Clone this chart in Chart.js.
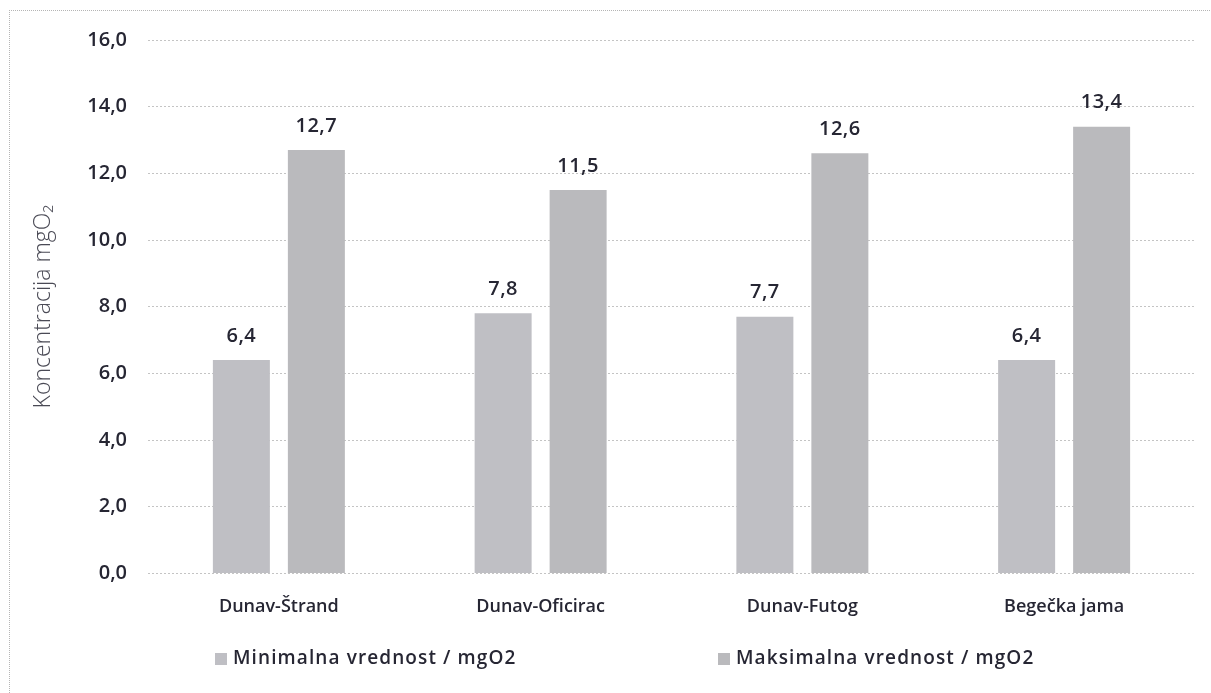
<!DOCTYPE html>
<html><head><meta charset="utf-8">
<script src="https://cdn.jsdelivr.net/npm/chart.js@4"></script>
<style>
html,body{margin:0;padding:0;background:#fff}
#wrap{position:relative;width:1211px;height:693px;overflow:hidden}
#frame{position:absolute;left:9px;top:10px;width:1300px;height:800px;border-left:1px dotted #b5b5b5;border-top:1px dotted #b5b5b5;pointer-events:none}
canvas{display:block}
</style></head>
<body><div id="wrap"><canvas id="c" width="1211" height="693"></canvas><div id="frame"></div></div>
<script>
const categories = ['Dunav-Štrand', 'Dunav-Oficirac', 'Dunav-Futog', 'Begečka jama'];
const minValues = [6.4, 7.8, 7.7, 6.4];
const maxValues = [12.7, 11.5, 12.6, 13.4];
const seriesLabels = ['Minimalna vrednost / mgO2', 'Maksimalna vrednost / mgO2'];
const seriesColors = ['#bfbfc4', '#bababd'];
const yMin = 0, yMax = 16, yStep = 2;
const yTitle = 'Koncentracija mgO\u2082';

const FONT = "'Open Sans', 'Liberation Sans', sans-serif";
const TEXT = '#262633';
const fmt = v => v.toFixed(1).replace('.', ',');

const valueLabels = {
  id: 'valueLabels',
  afterDatasetsDraw(chart) {
    const ctx = chart.ctx;
    ctx.save();
    ctx.font = '600 20px ' + FONT;
    if ('letterSpacing' in ctx) ctx.letterSpacing = '0.5px';
    ctx.fillStyle = TEXT;
    ctx.textAlign = 'center';
    ctx.textBaseline = 'middle';
    chart.data.datasets.forEach((ds, i) => {
      chart.getDatasetMeta(i).data.forEach((el, j) => {
        ctx.fillText(fmt(ds.data[j]), el.x, el.y - 24);
      });
    });
    ctx.restore();
  }
};

const legendXs = [215, 718];
const customLegend = {
  id: 'customLegend',
  afterDraw(chart) {
    const ctx = chart.ctx;
    ctx.save();
    ctx.font = '600 19px ' + FONT;
    if ('letterSpacing' in ctx) ctx.letterSpacing = '1.1px';
    ctx.textBaseline = 'middle';
    ctx.textAlign = 'left';
    chart.data.datasets.forEach((ds, i) => {
      const x = legendXs[i], y = 659;
      ctx.fillStyle = ds.backgroundColor;
      ctx.fillRect(x, y - 6, 12, 12);
      ctx.fillStyle = TEXT;
      ctx.fillText(ds.label, x + 18, y);
    });
    ctx.restore();
  }
};

new Chart(document.getElementById('c'), {
  type: 'bar',
  data: {
    labels: categories,
    datasets: [
      { label: seriesLabels[0], data: minValues, backgroundColor: seriesColors[0] },
      { label: seriesLabels[1], data: maxValues, backgroundColor: seriesColors[1] }
    ]
  },
  options: {
    responsive: false,
    animation: false,
    datasets: { bar: { barPercentage: 0.76, categoryPercentage: 0.573 } },
    layout: { padding: { left: 20, top: 40, right: 16, bottom: 60 } },
    plugins: { legend: { display: false }, tooltip: { enabled: false } },
    scales: {
      x: {
        grid: { display: false },
        border: { display: false },
        ticks: { font: { family: FONT, size: 18, weight: '600' }, color: TEXT, padding: 15 }
      },
      y: {
        min: yMin, max: yMax,
        afterFit(scale) { scale.width = 128; },
        grid: { color: '#c4c4c4', lineWidth: 1, drawTicks: false },
        border: { display: false, dash: [2, 2] },
        ticks: {
          stepSize: yStep,
          padding: 21,
          font: { family: FONT, size: 20, weight: '600' },
          color: TEXT,
          callback: v => fmt(v)
        },
        title: {
          display: true, text: yTitle, color: '#4a4a55',
          font: { family: FONT, size: 23, weight: '300' },
          padding: { top: 10, bottom: 0 }
        }
      }
    }
  },
  plugins: [valueLabels, customLegend]
});
</script>
</body></html>
